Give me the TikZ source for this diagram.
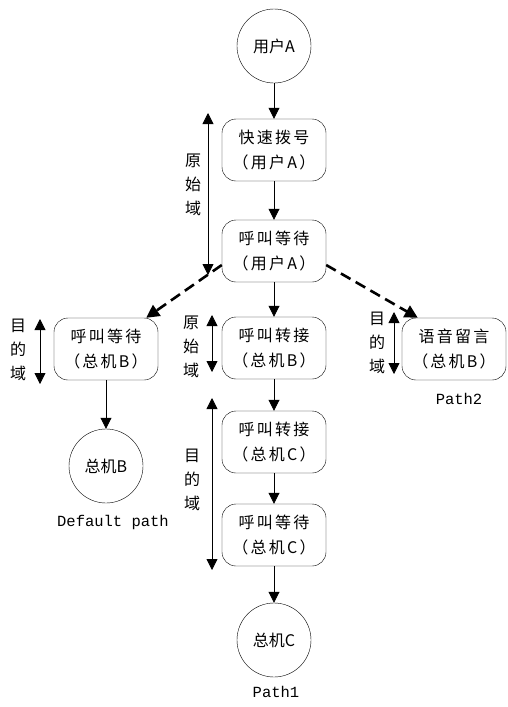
\documentclass[tikz,border=0pt]{standalone}
\usepackage{fontspec}
\usetikzlibrary{arrows.meta}
\newfontfamily\cjk[LetterSpace=14]{Noto Sans CJK SC}
\newfontfamily\cjktight{Noto Sans CJK SC}
\newfontfamily\latinmono{Liberation Mono}
\tikzset{
  flowbox/.style={draw, rounded corners=14pt, minimum width=104pt, minimum height=62pt,
    inner sep=0pt, align=center, font=\cjk\fontsize{16}{25}\selectfont},
  endpoint/.style={draw, circle, minimum size=74pt, inner sep=0pt,
    font=\cjktight\fontsize{16}{18}\selectfont},
  domainlabel/.style={align=center, inner sep=0pt, font=\cjktight\fontsize{16}{24}\selectfont},
  pathlabel/.style={inner sep=0pt, font=\latinmono\fontsize{15.5}{18}\selectfont},
  flow/.style={line width=0.8pt, -{Triangle[length=11pt,width=11pt]}},
  jump/.style={line width=2.6pt, dash pattern=on 11pt off 6pt,
    -{Triangle[length=13pt,width=13pt]}},
  span/.style={line width=0.8pt, {Triangle[length=11pt,width=11pt]}-{Triangle[length=11pt,width=11pt]}}
}
\begin{document}
\begin{tikzpicture}[x=1pt,y=-1pt]
\useasboundingbox (0,0) rectangle (507,707);

% main column
\node[endpoint] (ua) at (274,46) {用户A};
\node[flowbox] (b1) at (274,150) {快速拨号\\（用户A）};
\node[flowbox] (b2) at (274,251) {呼叫等待\\（用户A）};
\node[flowbox] (b3) at (274,348) {呼叫转接\\（总机B）};
\node[flowbox] (b4) at (274,442) {呼叫转接\\（总机C）};
\node[flowbox] (b5) at (274,535) {呼叫等待\\（总机C）};
\node[endpoint] (zc) at (274,640) {总机C};
\node[pathlabel] (p1) at (276,692) {Path1};

% default branch
\node[flowbox] (lb) at (106,349) {呼叫等待\\（总机B）};
\node[endpoint] (zb) at (106,466) {总机B};
\node[pathlabel] (pd) at (113,522) {Default path};

% voice mail branch
\node[flowbox] (rb) at (454,349) {语音留言\\（总机B）};
\node[pathlabel] (p2) at (459,399) {Path2};

% connectors
\draw[flow] (ua) -- (b1);
\draw[flow] (b1) -- (b2);
\draw[flow] (b2) -- (b3);
\draw[flow] (b3) -- (b4);
\draw[flow] (b4) -- (b5);
\draw[flow] (b5) -- (zc);
\draw[flow] (lb) -- (zb);
\draw[jump] ([yshift=-14pt]b2.west) -- ([xshift=-12pt]lb.north east);
\draw[jump] ([yshift=-14pt]b2.east) -- ([xshift=16pt]rb.north west);

% domain markers
\coordinate (o1t) at (208,113); \coordinate (o1b) at (208,275);
\draw[span] (o1t) -- (o1b);
\node[domainlabel] (o1) at (193,185) {原\\始\\域};

\coordinate (o2t) at (212,315); \coordinate (o2b) at (212,372);
\draw[span] (o2t) -- (o2b);
\node[domainlabel] (o2) at (191,347) {原\\始\\域};

\coordinate (d1t) at (40,319); \coordinate (d1b) at (40,384);
\draw[span] (d1t) -- (d1b);
\node[domainlabel] (d1) at (18,350) {目\\的\\域};

\coordinate (d2t) at (394,312); \coordinate (d2b) at (394,374);
\draw[span] (d2t) -- (d2b);
\node[domainlabel] (d2) at (377,343) {目\\的\\域};

\coordinate (d3t) at (212,398); \coordinate (d3b) at (212,570);
\draw[span] (d3t) -- (d3b);
\node[domainlabel] (d3) at (192,480) {目\\的\\域};
\end{tikzpicture}
\end{document}
